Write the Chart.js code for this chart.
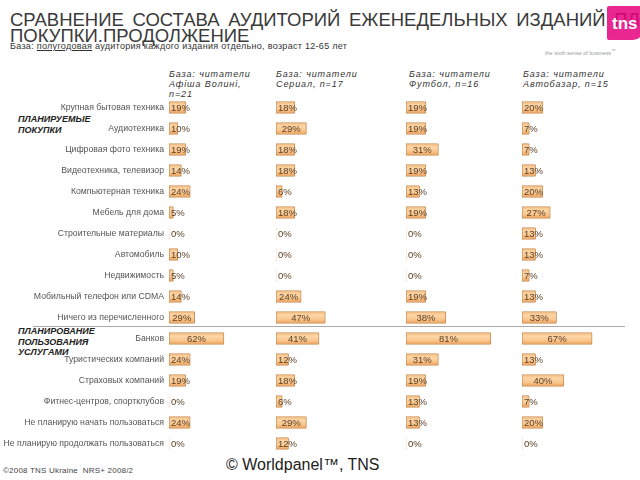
<!DOCTYPE html>
<html>
<head>
<meta charset="utf-8">
<script src="https://cdn.jsdelivr.net/npm/chart.js@4/dist/chart.umd.min.js"></script>
<style>
  body { margin: 0; width: 640px; height: 480px; overflow: hidden; background: #fff; font-family: "Liberation Sans", Arial, sans-serif; position: relative; }
  .abs { position: absolute; white-space: nowrap; }
  .title { left: 10px; font-size: 18.5px; color: #3a3a3a; line-height: 16px; }
  .sub { left: 10px; top: 41px; font-size: 9px; letter-spacing: 0.3px; color: #333; }
  .head { font-size: 9px; font-style: italic; letter-spacing: 0.9px; color: #333; line-height: 10px; }
  .section { left: 18px; font-size: 9px; font-weight: bold; font-style: italic; color: #222; line-height: 10.5px; }
  canvas { position: absolute; }
</style>
</head>
<body>
<div class="abs title" style="top:12px;word-spacing:3.5px">СРАВНЕНИЕ СОСТАВА АУДИТОРИЙ ЕЖЕНЕДЕЛЬНЫХ ИЗДАНИЙ ПЛАНИРУЕМЫЕ</div>
<div class="abs title" style="top:28px">ПОКУПКИ.ПРОДОЛЖЕНИЕ</div>
<div class="abs sub">База: <u>полугодовая</u> аудитория каждого издания отдельно, возраст 12-65 лет</div>

<div class="abs" style="left:607px;top:6px;width:36px;height:34px;background:rgba(230,0,126,0.85);border-radius:2px 2px 10px 2px;"></div>
<div class="abs" style="left:612px;top:14px;font-size:17px;font-weight:bold;color:#fff;">tns</div>
<div class="abs" style="left:545px;top:48px;font-size:5.5px;color:#999;">the sixth sense of business<sup>™</sup></div>

<div class="abs head" style="left:169px;top:69px">База: читатели<br>Афіша Волині,<br>n=21</div>
<div class="abs head" style="left:276px;top:69px">База: читатели<br>Сериал, n=17</div>
<div class="abs head" style="left:409px;top:69px">База: читатели<br>Футбол, n=16</div>
<div class="abs head" style="left:523px;top:69px">База: читатели<br>Автобазар, n=15</div>

<div class="abs section" style="top:114px">ПЛАНИРУЕМЫЕ<br>ПОКУПКИ</div>
<div class="abs section" style="top:326px">ПЛАНИРОВАНИЕ<br>ПОЛЬЗОВАНИЯ<br>УСЛУГАМИ</div>
<div class="abs" style="left:33px;top:326px;width:592px;height:1px;background:#aaa;"></div>

<canvas id="panel1" width="262" height="357" style="left:0;top:97px"></canvas>
<canvas id="panel2" width="125" height="357" style="left:276px;top:97px"></canvas>
<canvas id="panel3" width="112" height="357" style="left:406px;top:97px"></canvas>
<canvas id="panel4" width="112" height="357" style="left:522px;top:97px"></canvas>

<div class="abs" style="left:3px;top:466px;font-size:8px;letter-spacing:0.2px;color:#444;">©2008 TNS Ukraine&nbsp; NRS+ 2008/2</div>
<div class="abs" style="left:226px;top:456px;font-size:16px;color:#222;">© Worldpanel™, TNS</div>

<script>
const categories = [
    "Крупная бытовая техника",
    "Аудиотехника",
    "Цифровая фото техника",
    "Видеотехника, телевизор",
    "Компьютерная техника",
    "Мебель для дома",
    "Строительные материалы",
    "Автомобиль",
    "Недвижимость",
    "Мобильный телефон или CDMA",
    "Ничего из перечисленного",
    "Банков",
    "Туристических компаний",
    "Страховых компаний",
    "Фитнес-центров, спортклубов",
    "Не планирую начать пользоваться",
    "Не планирую продолжать пользоваться"
];

const afishaValues = [19, 10, 19, 14, 24, 5, 0, 10, 5, 14, 29, 62, 24, 19, 0, 24, 0];
const serialValues = [18, 29, 18, 18, 6, 18, 0, 0, 0, 24, 47, 41, 12, 18, 6, 29, 12];
const futbolValues = [19, 19, 31, 19, 13, 19, 0, 0, 0, 19, 38, 81, 31, 19, 13, 13, 0];
const avtobazarValues = [20, 7, 7, 13, 20, 27, 13, 13, 7, 13, 33, 67, 13, 40, 7, 20, 0];

const FONT = '"Liberation Sans", Arial, sans-serif';

// orange "tube" gradient for each bar
function barFill(ctx) {
    const chart = ctx.chart;
    const ys = chart.scales.y;
    if (!ys || ctx.dataIndex === undefined) return '#f8c58a';
    const y = ys.getPixelForValue(ctx.dataIndex);
    if (!isFinite(y)) return '#f8c58a';
    const g = chart.ctx.createLinearGradient(0, y - 6, 0, y + 6);
    g.addColorStop(0, '#f6b877');
    g.addColorStop(0.3, '#fcd6a8');
    g.addColorStop(0.7, '#f9c48a');
    g.addColorStop(1, '#ea9a50');
    return g;
}

// value label, centred on bar, pushed right when bar is too short
const valueLabels = {
    id: 'valueLabels',
    afterDatasetsDraw(chart) {
        const ctx = chart.ctx;
        const ds = chart.data.datasets[0];
        ctx.save();
        ctx.font = '9.5px ' + FONT;
        ctx.fillStyle = '#5c4127';
        ctx.textBaseline = 'middle';
        ctx.textAlign = 'center';
        chart.getDatasetMeta(0).data.forEach((bar, i) => {
            const txt = ds.data[i] + '%';
            const w = ctx.measureText(txt).width;
            const cx = Math.max((bar.x + bar.base) / 2, bar.base + 2 + w / 2);
            ctx.fillText(txt, cx, bar.y + 1);
        });
        ctx.restore();
    }
};

function makePanel(id, values, xMax, showLabels) {
    return new Chart(document.getElementById(id), {
        type: 'bar',
        data: {
            labels: categories,
            datasets: [{
                data: values,
                backgroundColor: barFill,
                borderColor: '#c8915a',
                borderWidth: c => (values[c.dataIndex] === 0 ? 0 : 1),
                borderSkipped: false,
                borderRadius: 1,
                barThickness: 12
            }]
        },
        options: {
            indexAxis: 'y',
            responsive: false,
            animation: false,
            layout: { padding: 0 },
            plugins: { legend: { display: false }, tooltip: { enabled: false } },
            scales: {
                x: { display: false, min: 0, max: xMax },
                y: {
                    display: showLabels,
                    grid: { display: false, drawTicks: false },
                    border: { display: false },
                    ticks: { font: { size: 8.7, family: FONT }, color: '#555', padding: 5, autoSkip: false },
                    afterFit: s => {
                        if (!showLabels) return;
                        s.width = 169;
                        s.paddingTop = 0;
                        s.paddingBottom = 0;
                    }
                }
            }
        },
        plugins: [valueLabels]
    });
}

document.addEventListener('DOMContentLoaded', () => {
    makePanel('panel1', afishaValues, 105, true);
    makePanel('panel2', serialValues, 119, false);
    makePanel('panel3', futbolValues, 107, false);
    makePanel('panel4', avtobazarValues, 107, false);
});
</script>
</body>
</html>
